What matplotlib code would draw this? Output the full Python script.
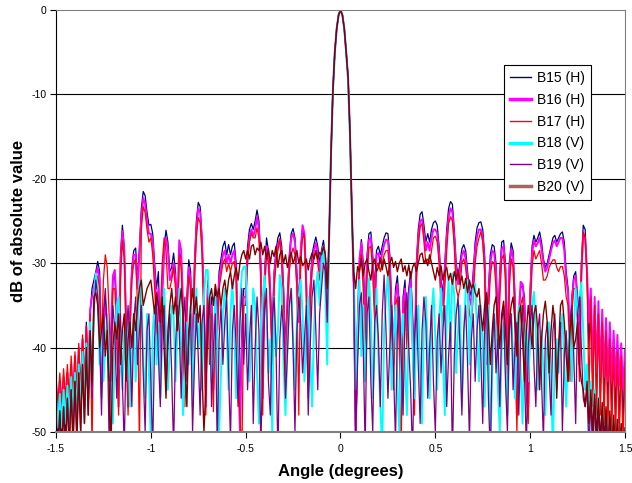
import numpy as np
import matplotlib
matplotlib.use("Agg")
import matplotlib.pyplot as plt

plt.rcParams['font.family'] = ['Liberation Sans', 'DejaVu Sans']

# angle grid in degrees, 0.01 deg steps from -1.5 to 1.5
angle = np.round(np.arange(-150, 151) / 100.0, 2)

# dB values, one row per 0.1 degree
b15 = [
    -45, -52, -44.5, -51, -44, -50, -43, -49, -42.5, -49,
    -41.5, -48, -40.5, -48, -39, -47, -37, -46, -36, -33,
    -32, -31, -29.8, -31, -46, -38, -34, -38, -44, -40,
    -32, -31.5, -36, -45, -29, -25.5, -28, -37, -45, -36,
    -30.5, -28.5, -28.2, -32, -28, -23.5, -21.5, -22, -24, -25.5,
    -25.4, -26.5, -30, -33, -31, -40, -33, -28, -26.1, -27.5,
    -31, -30.5, -28.8, -31, -37, -28.5, -29.5, -36, -46, -34,
    -29.6, -31, -42, -30, -25, -22.8, -23.3, -27, -34, -44,
    -32, -38, -34, -41, -33, -36, -31, -29.5, -28, -27.4,
    -29, -27.8, -29, -28, -27.6, -30, -40, -47, -38, -33,
    -33, -28, -26, -25.3, -26, -25, -23.7, -25, -30, -44,
    -31, -27, -28.5, -33, -38, -31, -28.5, -27, -26.4, -28,
    -33, -40, -34, -29, -26.5, -25.9, -27, -31, -35, -28.5,
    -26, -27, -32, -42, -33, -29, -27.8, -26.9, -28, -30,
    -28.5, -27.3, -29, -36, -27, -17, -9.5, -5, -2.2, -0.6,
    0, -0.6, -2.2, -5, -8, -14.5, -24, -33, -53, -40,
    -30, -27.2, -30, -36, -29, -26.5, -26.3, -29, -33, -28.5,
    -28, -29, -28, -27, -26.4, -26.5, -29, -35, -40, -33,
    -31.5, -35, -45, -34, -32, -37, -33, -31, -36, -42,
    -30, -26, -24.2, -23.9, -25.5, -27.5, -26.5, -27.5, -26, -25.2,
    -25, -25.5, -28, -32, -33.5, -30, -26, -23.5, -22.7, -23,
    -26, -30, -31.5, -30, -28.3, -27.8, -28.5, -31, -33, -34,
    -31, -27.5, -25.8, -25.2, -25.1, -26, -29, -38, -33, -29,
    -27.8, -28, -30, -37, -31, -27.5, -27.3, -30, -40, -30,
    -27.6, -28.5, -34, -45, -36, -33, -32.5, -34, -42, -45,
    -33, -28, -26.7, -27.5, -27, -26.3, -27.5, -29.5, -30.5, -30,
    -29, -28, -27, -26.7, -27.5, -27, -26.5, -26.3, -27.5, -31,
    -33, -39, -34, -31.5, -31, -34, -40, -30, -25.5, -26,
    -32, -40, -34, -45, -35, -46, -36, -46, -37, -47,
    -37.5, -47, -38.5, -48, -39, -48, -40, -49, -40.5, -49,
    -41]

b16 = [
    -44.5, -49, -44, -49, -43.5, -48.5, -43, -48, -42, -48,
    -41, -47.5, -40, -47, -39, -46, -37.5, -45, -35.5, -34,
    -33, -31.5, -30.5, -32, -44, -37, -35, -37, -42, -38,
    -31.5, -30.8, -35, -47, -30, -26.2, -28.5, -38, -47, -37,
    -31, -29, -29, -33, -29, -24.5, -22.3, -23, -25, -26.5,
    -26.5, -27.5, -31, -35, -33, -44, -34, -29, -27, -28.5,
    -32, -31.5, -30, -32, -35, -27.3, -28.5, -35, -44, -35,
    -30.5, -32, -45, -31, -26, -23.5, -24, -27.5, -35, -47,
    -33, -40, -35, -45, -34, -38, -32, -30.5, -29, -28.5,
    -30, -29, -30, -29, -28.5, -31, -42, -50, -40, -34,
    -34, -29, -27, -26, -26.8, -26, -24.5, -26, -31, -46,
    -32, -28, -29, -34, -40, -32, -29, -27.8, -27.2, -29,
    -34, -43, -35, -30, -27, -26.5, -27.5, -32, -37, -28.5,
    -25.5, -26.5, -33, -44, -34, -30, -28.5, -27.6, -28.8, -31,
    -29, -28, -29.5, -37, -27, -17, -9.5, -5, -2.2, -0.6,
    0, -0.6, -2.2, -5, -8, -14.5, -24, -33, -50, -38,
    -29.5, -27.6, -31, -38, -30, -27.2, -27, -30, -35, -29,
    -28.8, -30, -28.8, -27.8, -27.2, -27.3, -30, -37, -42, -34,
    -32.5, -36, -48, -35, -33, -38, -34, -32, -38, -45,
    -31, -27, -25, -24.8, -26.5, -28.5, -27.5, -28.5, -27, -26,
    -26, -26.5, -29, -33, -35, -31, -27, -24.5, -23.5, -24,
    -27, -31, -32.5, -31, -29, -28.5, -29.5, -32, -34, -35,
    -32, -28.5, -26.8, -26, -26, -27, -30, -40, -34, -30,
    -28.5, -28.8, -31, -39, -32, -28.3, -28, -31, -43, -31,
    -28.3, -29.3, -35, -48, -36, -32.2, -32.5, -35, -44, -47,
    -34, -28.8, -27.3, -28, -27.6, -27, -28.3, -30, -31, -30.5,
    -29.5, -28.5, -27.6, -27.3, -28, -27.5, -27, -27, -28.5, -32,
    -33.5, -40, -34.5, -32, -31.5, -35, -42, -31, -26.5, -27,
    -31, -37, -33, -43, -34, -43, -34.5, -43.5, -35.5, -43.5,
    -36.5, -44, -37, -44, -38, -44.5, -38.5, -44.5, -39.5, -45,
    -40.3]

b17 = [
    -43.4, -46.5, -43, -46.5, -42.5, -46, -42, -46, -41, -45.5,
    -40.5, -45, -39.5, -45, -38.5, -44.5, -37.5, -44, -36, -52,
    -34, -32.5, -31.5, -33, -40, -32, -29, -30.5, -36, -44,
    -33, -33, -38, -48, -32, -27.3, -29.5, -39, -48, -38,
    -32, -30, -29.5, -35, -52, -26, -23.3, -24, -26, -27.5,
    -27, -29, -33, -38, -41, -36, -30, -27, -28.5, -33,
    -33, -32, -30.5, -33, -38, -29, -30.5, -38, -47, -36,
    -31.5, -33, -46, -32, -27, -24.6, -25.2, -29, -37, -48,
    -34, -42, -36, -47.6, -35, -39, -33, -31.5, -30, -29.5,
    -31, -30, -31, -30, -29.8, -32, -43, -48, -53, -35,
    -35, -30, -27.5, -26.5, -27, -27, -25.8, -27, -32, -48,
    -33, -29, -30, -35, -42, -33, -30, -28.5, -27.1, -30,
    -35, -45, -36, -31, -29, -28.2, -29, -33, -48, -30,
    -27, -26.7, -34, -46, -35, -31, -29.5, -28.6, -30, -32,
    -30, -28.5, -30, -38, -27, -17, -9.5, -5, -2.2, -0.6,
    0, -0.6, -2.2, -5, -8, -14.5, -24, -33, -48, -37,
    -30.5, -29, -33, -40, -31.5, -28.2, -28, -31, -37, -30.5,
    -30, -31, -30, -29, -28.5, -28.5, -31.5, -38, -45, -35,
    -34, -40, -52, -37, -34.5, -40, -35.5, -33.5, -40, -48,
    -32, -28, -25.7, -25.3, -27.5, -30, -29.5, -30, -28.5, -27,
    -26.8, -27.5, -30, -35, -37, -33, -28.5, -25.3, -24.5, -25,
    -28, -33, -34, -33, -30, -29.5, -30.5, -33, -36, -37,
    -34, -30, -28, -27, -26.3, -27.5, -31, -42, -36, -31.5,
    -29.8, -30, -33, -41, -34, -29.5, -29, -32, -45, -33,
    -29.5, -30.5, -36, -50, -40, -35, -34, -37, -46, -49,
    -36, -30.5, -28.5, -29.5, -29, -28.5, -30, -32, -32, -31.5,
    -30.5, -30, -29.6, -29.6, -30.5, -31, -30.4, -30.4, -31.5, -34,
    -35, -44, -36, -33, -33, -37, -44, -32, -26.3, -27,
    -31.5, -46, -34, -47, -35, -48, -36, -48, -37, -49,
    -38, -50, -39, -50, -40, -51, -40.5, -51, -41, -52,
    -41.7]

b18 = [
    -46, -49.5, -45.5, -49.5, -45, -49, -44.5, -49, -43.5, -48.5,
    -43, -48, -42, -47.5, -40.5, -47, -39.5, -46, -37, -45,
    -34, -31.2, -33, -42, -38, -44, -40, -36, -41, -45,
    -49, -40, -35, -34, -42, -45, -38, -44, -37, -47,
    -41, -36, -44, -39, -32, -33, -42, -46, -36, -43,
    -51, -38, -35, -42, -37, -46, -39, -33, -38, -45,
    -40, -35, -36, -44, -38, -33, -40, -48, -43, -37,
    -42, -35, -47, -38, -33, -40, -37, -45, -34, -30.8,
    -30.8, -36, -44, -41, -34, -39, -50, -43, -36, -33,
    -38, -45, -36, -32, -38, -46, -41, -35, -31, -30.4,
    -30.4, -37, -44, -38, -33, -35, -43, -49, -38, -34,
    -31.5, -36, -43, -39, -50, -34, -41, -38, -31.4, -33,
    -42, -48, -40, -35, -33, -39, -45, -37, -34, -32,
    -36, -44, -38, -34, -41, -47, -38, -33, -31, -35,
    -30, -28, -33, -42, -27, -17, -9.5, -5, -2.2, -0.6,
    0, -0.6, -2.2, -5, -8.5, -15, -24.5, -30, -45, -38,
    -32, -41, -35, -44, -38, -31.8, -36, -46, -40, -33,
    -41, -47, -52, -38, -34, -31.4, -37, -45, -39, -35,
    -44, -50, -39, -36, -42, -48, -37, -33, -40, -46,
    -38, -35, -43, -49, -37, -34, -40, -46, -36, -33,
    -39, -45, -37, -33, -41, -48, -36, -32, -40, -31.2,
    -34, -43, -38, -35, -47, -39, -33, -32, -42, -36,
    -33, -32.4, -38, -44, -35, -40, -47, -38, -35, -52,
    -43, -36, -38, -45, -50, -40, -37, -42, -48, -39,
    -36, -41, -46, -38, -35, -43, -49, -40, -37, -44,
    -39, -35, -33.4, -38, -45, -41, -38, -43, -48, -40,
    -37, -44, -52, -41, -39, -43, -38, -36, -42, -47,
    -40, -37, -44, -38, -33, -36, -34, -32.3, -38, -45,
    -42, -51, -44, -52, -45, -52, -46, -53, -47, -53,
    -47.5, -54, -48, -54, -48.5, -54, -49, -55, -49.5, -55,
    -50]

b19 = [
    -48, -53, -47.5, -53, -47, -52, -46, -52, -45, -51,
    -44, -51, -43, -50, -42, -49, -40.5, -48, -38, -46,
    -36, -32, -34, -39, -48, -36, -33, -38, -51, -41,
    -35, -38, -46, -40, -36, -44, -52, -39, -35, -40,
    -47, -37, -34, -42, -38, -35, -43, -50, -38, -36,
    -44, -52, -39, -34, -41, -47, -37, -35, -45, -40,
    -36, -43, -52, -40, -35, -38, -46, -37, -34, -44,
    -39, -36, -50, -42, -36, -41, -48, -37, -35, -43,
    -38, -34, -47, -40, -36, -52, -39, -35, -42, -37,
    -34, -43, -51, -38, -35, -40, -47, -37, -33, -42,
    -36, -45, -39, -35, -49, -40, -34, -38, -52, -41,
    -36, -33, -44, -48, -37, -34, -40, -53, -39, -35,
    -38, -46, -41, -35, -33, -40, -50, -38, -34, -37,
    -43, -39, -35, -48, -40, -34, -32, -38, -45, -36,
    -33, -30, -31, -37, -27, -17, -9.5, -5, -2.2, -0.6,
    0, -0.6, -2.2, -5, -8, -14.5, -24, -33, -50, -42,
    -35, -33.5, -40, -52, -36, -34, -44, -50, -37, -35,
    -39, -47, -36, -31.4, -38, -46, -40, -35, -43, -51,
    -38, -34, -41, -48, -36, -33.5, -40, -45, -53, -39,
    -35, -42, -49, -38, -34, -37, -46, -40, -35, -44,
    -50, -39, -36, -43, -38, -35, -47, -41, -37, -53,
    -41, -36, -34, -40, -48, -38, -35, -42, -51, -39,
    -36, -44, -38, -35, -41, -49, -37, -34, -46, -53,
    -40, -36, -43, -39, -47, -37, -35, -44, -50, -38,
    -36, -45, -40, -37, -48, -39, -35, -43, -52, -40,
    -37, -35, -42, -47, -38, -36, -44, -51, -39, -37,
    -43, -48, -38, -36, -45, -40, -37, -50, -41, -38,
    -44, -37, -35, -41, -49, -36, -34, -40, -46, -47,
    -45, -52, -46, -53, -46, -53, -47, -53, -47.5, -54,
    -48, -54, -48.5, -54, -49, -55, -49, -55, -49.5, -55,
    -50]

b20 = [
    -48, -53, -47.5, -53, -47, -52.5, -46, -52, -45, -52,
    -44, -51, -43, -50, -42, -49, -40, -48, -38, -44,
    -34, -33.5, -35, -40, -38, -36, -41, -38, -44, -52,
    -40, -37, -39, -36, -42, -38, -36, -44, -39, -37,
    -40, -36, -38, -35, -33, -32, -35, -34, -33, -32.5,
    -32, -34, -36, -33.5, -35, -37, -34, -40, -46, -38,
    -35, -33, -36, -34, -38, -35, -33, -36, -42, -47,
    -38, -35, -33, -36, -34, -37, -35, -43, -50, -45,
    -37, -34, -33, -35, -32.5, -34, -33, -35, -33, -32,
    -34, -32, -31, -33, -31.5, -30.5, -32, -30, -29, -28.5,
    -29.5, -28.5, -29.5, -28, -27.8, -29, -28.2, -28.5, -27.5, -29,
    -28, -29.5, -28.3, -30, -28.5, -29.2, -28, -30.5, -29, -28.5,
    -30, -29, -30.5, -29.5, -28.7, -30, -29.3, -28.5, -30, -29.2,
    -30.3, -30, -29.5, -30.8, -29.5, -28.8, -29.5, -28.5, -29.5, -28.7,
    -29, -28, -29, -33, -27, -17, -9.5, -5, -2.2, -0.6,
    0, -0.6, -2.2, -5, -8, -14.5, -24, -31, -33, -30.4,
    -31, -29.5, -31.5, -30, -29.5, -31, -32, -30, -29.5, -31,
    -30.5, -29.3, -30.8, -29.5, -30.4, -31.5, -30, -29.3, -30.5, -29.8,
    -31, -30, -29.5, -31, -30.3, -31.5, -30.2, -31.8, -30.5, -30,
    -31, -30, -29, -28.8, -30, -29.5, -30.3, -29, -30, -31,
    -32, -30.5, -31.5, -30.3, -32, -31, -30.5, -32, -31.2, -32.5,
    -31, -32, -30.8, -32.5, -31.5, -33, -31.8, -33.5, -32, -33,
    -32.5, -33.5, -34, -33, -36, -38, -35, -33.5, -37, -42,
    -38, -35, -34, -37, -40, -36, -34.5, -38, -42, -37,
    -35, -34, -37, -41, -36, -35, -39, -44, -38, -35,
    -37, -40, -36, -35, -38, -45, -39, -36, -34.5, -37,
    -43, -38, -35, -37, -46, -40, -35, -34.4, -37, -41,
    -44, -38, -36, -40, -39, -37, -42, -44, -45, -47,
    -44, -49, -45, -50, -45.5, -50.5, -46, -51, -46.5, -51,
    -47, -52, -47.5, -52, -48, -52.5, -48.5, -53, -49, -53,
    -49.5]

labels = ["B15 (H)", "B16 (H)", "B17 (H)", "B18 (V)", "B19 (V)", "B20 (V)"]
colors = ["#000080", "#FF00FF", "#FF0000", "#00FFFF", "#800080", "#800000"]
widths = [0.9, 1.4, 0.9, 1.4, 0.9, 1.0]
data = [b15, b16, b17, b18, b19, b20]

for name, vals in zip(labels, data):
    if len(vals) != len(angle):
        raise ValueError(f"{name}: {len(vals)} values, expected {len(angle)}")

fig = plt.figure(figsize=(6.32, 4.83), dpi=100)
ax = fig.add_axes([0.0886, 0.1056, 0.9003, 0.8737])

for y in [-10, -20, -30, -40]:
    ax.axhline(y, color="black", lw=0.8, zorder=0)

for name, vals, c, w in zip(labels, data, colors, widths):
    ax.plot(angle, vals, color=c, lw=w, label=name)

ax.set_xlim(-1.5, 1.5)
ax.set_ylim(-50, 0)
ax.set_xticks([-1.5, -1, -0.5, 0, 0.5, 1, 1.5])
ax.set_xticklabels(["-1.5", "-1", "-0.5", "0", "0.5", "1", "1.5"], fontsize=7.5)
ax.set_yticks([0, -10, -20, -30, -40, -50])
ax.set_yticklabels(["0", "-10", "-20", "-30", "-40", "-50"], fontsize=7.5)
ax.tick_params(direction="out", length=4, width=0.8, pad=3)
ax.tick_params(axis="x", pad=5)

ax.spines["left"].set_color("black")
ax.spines["bottom"].set_color("#808080")
ax.spines["bottom"].set_linewidth(1.5)
ax.spines["top"].set_color("#808080")
ax.spines["right"].set_color("#808080")

ax.set_xlabel("Angle (degrees)", fontsize=12, fontweight="bold", labelpad=7)
ax.set_ylabel("dB of absolute value", fontsize=12, fontweight="bold", labelpad=4)

leg = ax.legend(loc="upper right", bbox_to_anchor=(0.94, 0.87), fontsize=10,
                frameon=True, fancybox=False, edgecolor="black", framealpha=1,
                handlelength=1.5, handletextpad=0.4, labelspacing=0.56,
                borderpad=0.45, borderaxespad=0)
leg.get_frame().set_linewidth(0.8)
for h, w in zip(leg.get_lines(), [1.0, 2.5, 1.0, 2.5, 1.0, 2.5]):
    h.set_linewidth(w)
leg.get_lines()[5].set_color("#B06060")

fig.savefig("out.png", dpi=100)
